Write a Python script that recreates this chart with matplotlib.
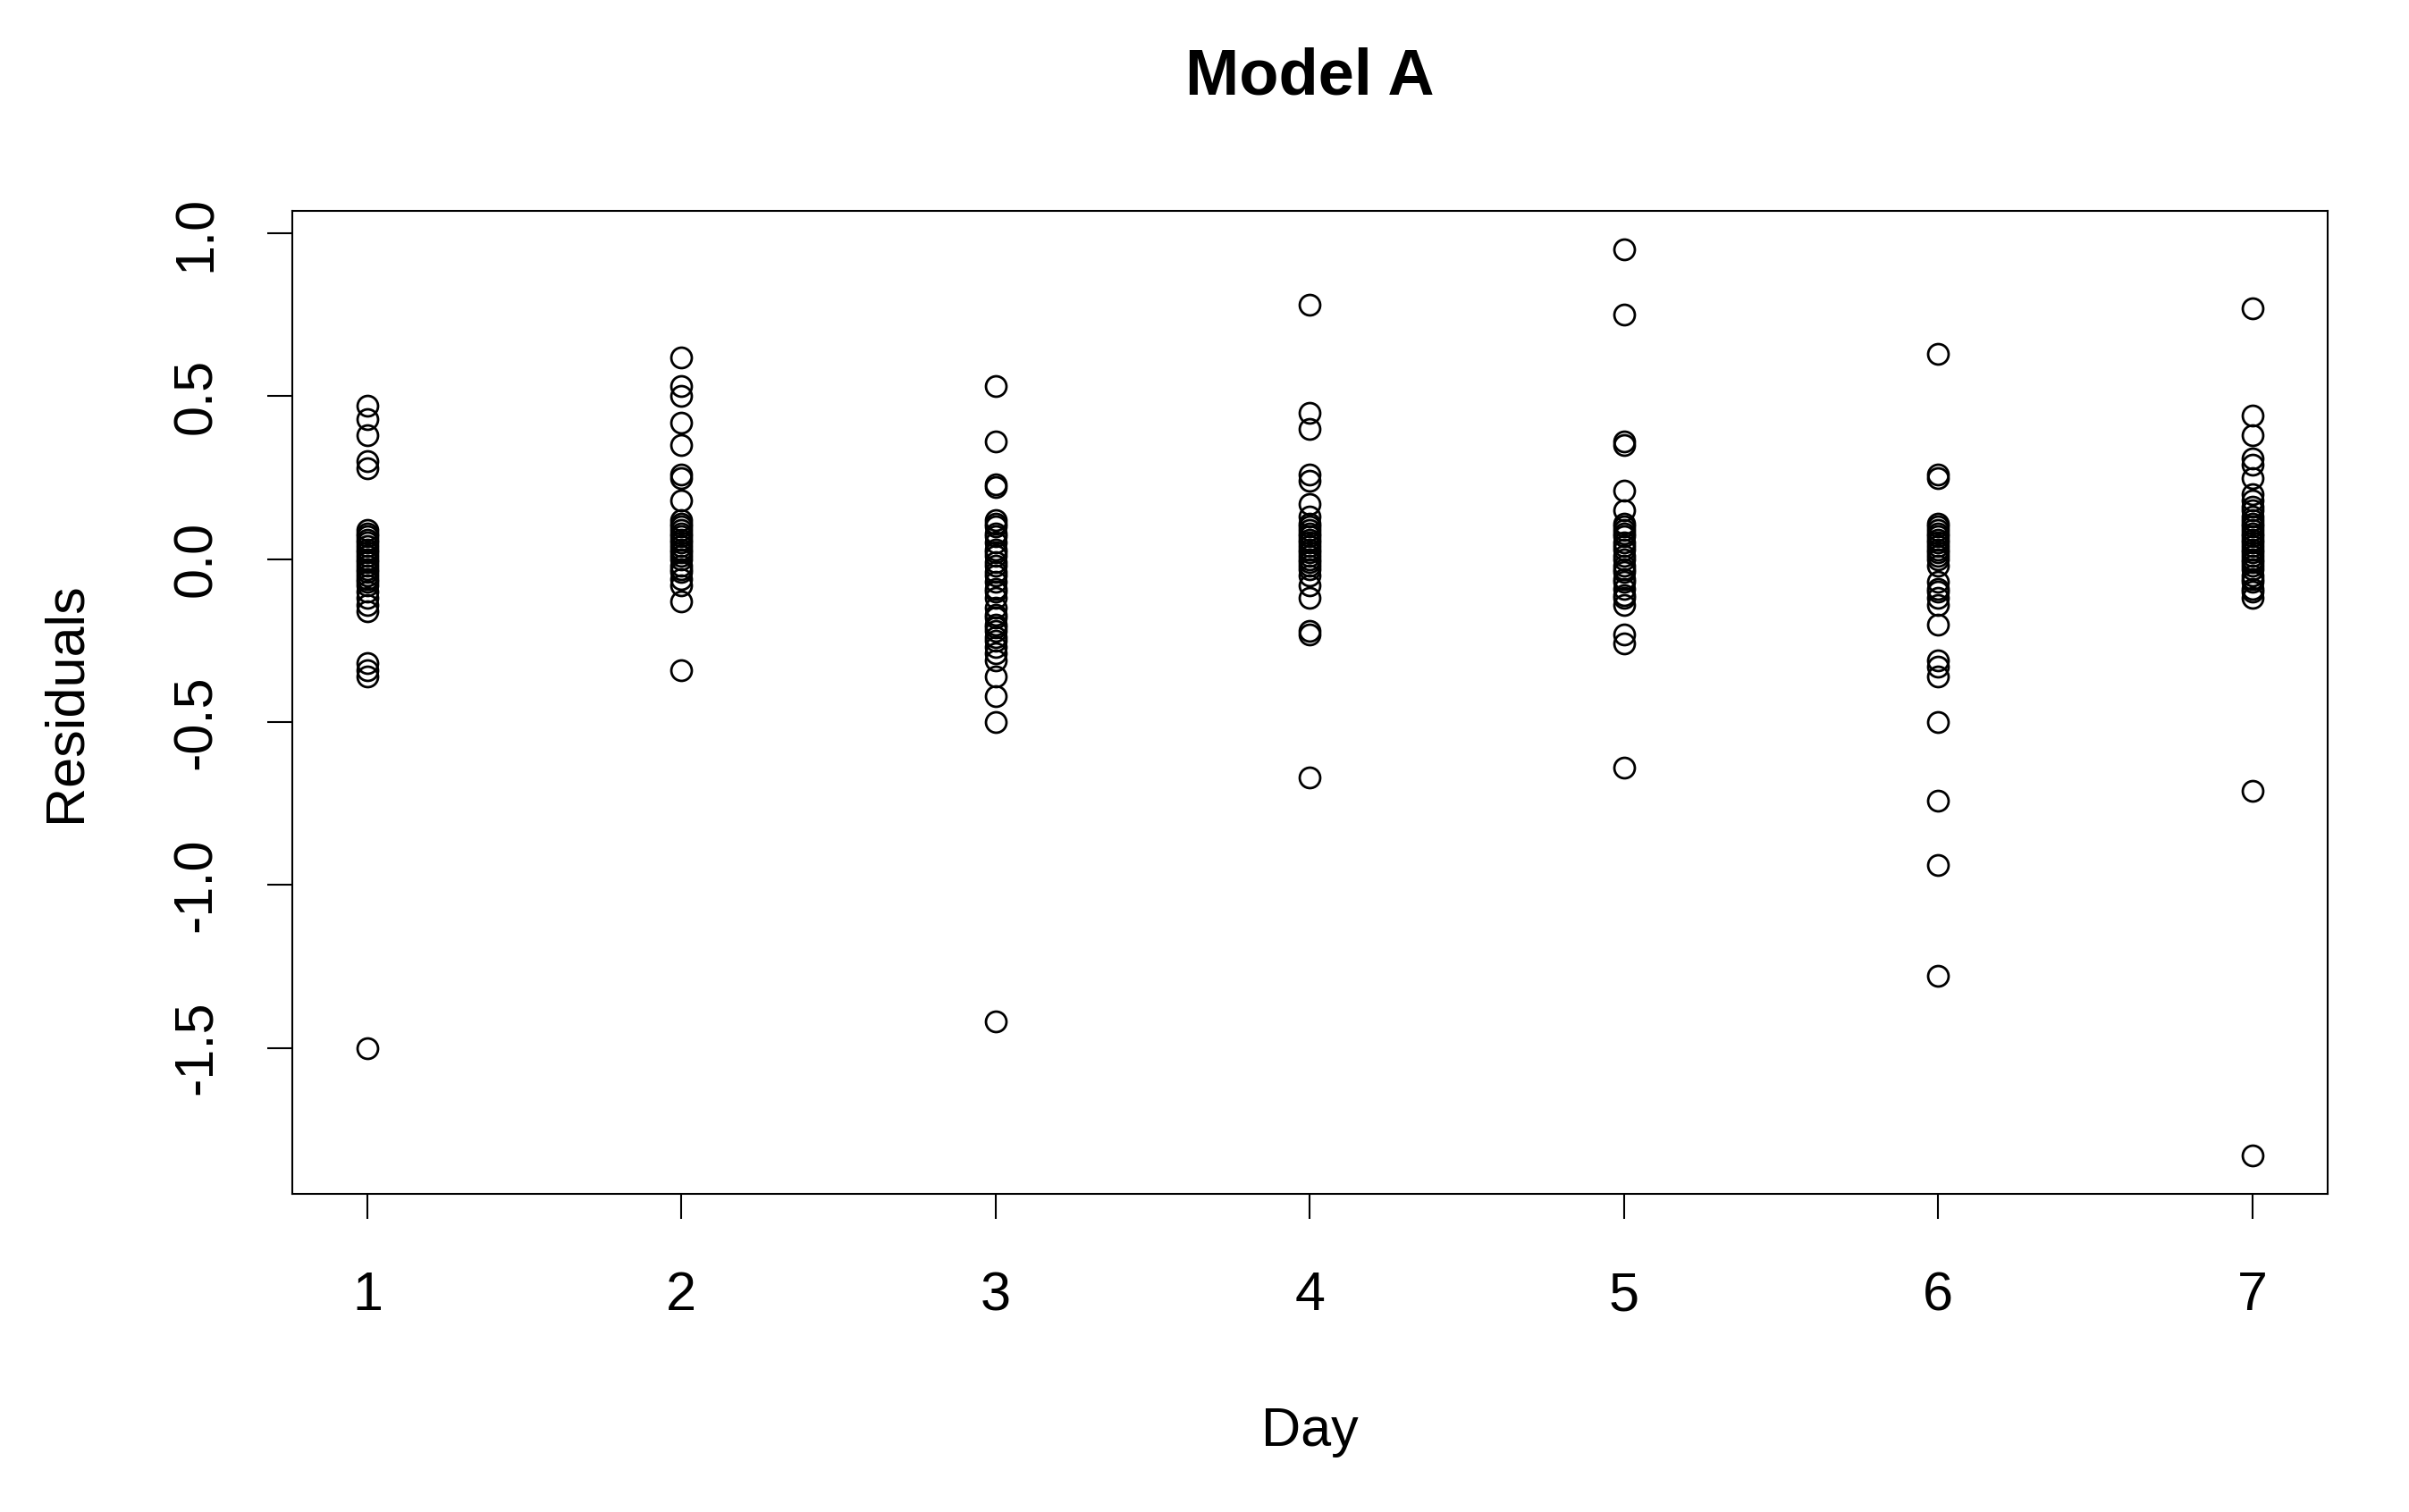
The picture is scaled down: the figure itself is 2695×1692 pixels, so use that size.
import numpy as np
import matplotlib
matplotlib.use('Agg')
from matplotlib import pyplot as plt

plt.rcParams['font.family'] = ['Liberation Sans', 'DejaVu Sans']

# residuals, one list per day
day1 = [0.47, 0.43, 0.38, 0.30, 0.28, 0.09, 0.08, 0.07, 0.06, 0.05, 0.04, 0.03, 0.02, 0.01, 0.00,
        -0.01, -0.02, -0.03, -0.04, -0.05, -0.06, -0.07, -0.08, -0.10, -0.12, -0.14, -0.16,
        -0.32, -0.34, -0.36, -1.50]
day2 = [0.62, 0.53, 0.50, 0.42, 0.35, 0.26, 0.25, 0.18, 0.12, 0.11, 0.10, 0.09, 0.08, 0.07, 0.06,
        0.05, 0.04, 0.03, 0.02, 0.01, 0.00, -0.02, -0.03, -0.04, -0.06, -0.08, -0.13, -0.34]
day3 = [0.53, 0.36, 0.23, 0.22, 0.12, 0.11, 0.10, 0.08, 0.07, 0.05, 0.03, 0.02, 0.01, -0.01,
        -0.02, -0.04, -0.05, -0.07, -0.09, -0.10, -0.12, -0.15, -0.17, -0.18, -0.20, -0.21,
        -0.22, -0.24, -0.25, -0.27, -0.29, -0.31, -0.36, -0.42, -0.50, -1.42]
day4 = [0.78, 0.45, 0.40, 0.26, 0.24, 0.17, 0.13, 0.11, 0.10, 0.09, 0.08, 0.07, 0.06, 0.05, 0.04,
        0.03, 0.02, 0.01, 0.00, -0.01, -0.02, -0.03, -0.05, -0.08, -0.12, -0.22, -0.23, -0.67]
day5 = [0.95, 0.75, 0.36, 0.35, 0.21, 0.15, 0.11, 0.10, 0.09, 0.08, 0.07, 0.05, 0.04, 0.03,
        0.01, 0.00, -0.02, -0.03, -0.04, -0.06, -0.07, -0.09, -0.11, -0.12, -0.14, -0.23,
        -0.26, -0.64]
day6 = [0.63, 0.26, 0.25, 0.11, 0.10, 0.09, 0.08, 0.07, 0.06, 0.05, 0.04, 0.03, 0.02, 0.01,
        0.00, -0.02, -0.07, -0.09, -0.10, -0.12, -0.14, -0.20, -0.31, -0.33, -0.36, -0.50,
        -0.74, -0.94, -1.28]
day7 = [0.77, 0.44, 0.38, 0.31, 0.29, 0.25, 0.20, 0.18, 0.16, 0.15, 0.13, 0.12, 0.11, 0.10,
        0.09, 0.08, 0.07, 0.06, 0.05, 0.04, 0.03, 0.02, 0.01, 0.00, -0.01, -0.02, -0.03, -0.05,
        -0.06, -0.07, -0.09, -0.10, -0.12, -0.71, -1.83]

days = [1, 2, 3, 4, 5, 6, 7]
residuals = [day1, day2, day3, day4, day5, day6, day7]
yticks = [-1.5, -1.0, -0.5, 0.0, 0.5, 1.0]
ytick_labels = ['-1.5', '-1.0', '-0.5', '0.0', '0.5', '1.0']

fig = plt.figure(figsize=(26.95, 16.92), dpi=100)
ax = fig.add_axes([0.1212, 0.2104, 0.9662 - 0.1212, 0.8608 - 0.2104])

for d, r in zip(days, residuals):
    ax.plot([d] * len(r), r, linestyle='none', marker='o', markersize=16.5,
            markerfacecolor='none', markeredgecolor='black', markeredgewidth=2.0)

ax.set_xlim(0.76, 7.24)
ax.set_ylim(-1.948, 1.07)
ax.set_xticks(days)
ax.set_yticks(yticks)
ax.set_yticklabels(ytick_labels, rotation=90, va='center')
ax.tick_params(axis='both', labelsize=44, length=20, width=1.5)
ax.tick_params(axis='x', pad=42)
ax.tick_params(axis='y', pad=36)
for s in ax.spines.values():
    s.set_linewidth(1.5)

ax.set_xlabel('Day', fontsize=44, labelpad=68)
ax.set_ylabel('Residuals', fontsize=44, labelpad=64)
fig.text(0.5437, 0.949, 'Model A', fontsize=52, fontweight='bold', ha='center', va='center')

fig.savefig('out.png', dpi=100)
